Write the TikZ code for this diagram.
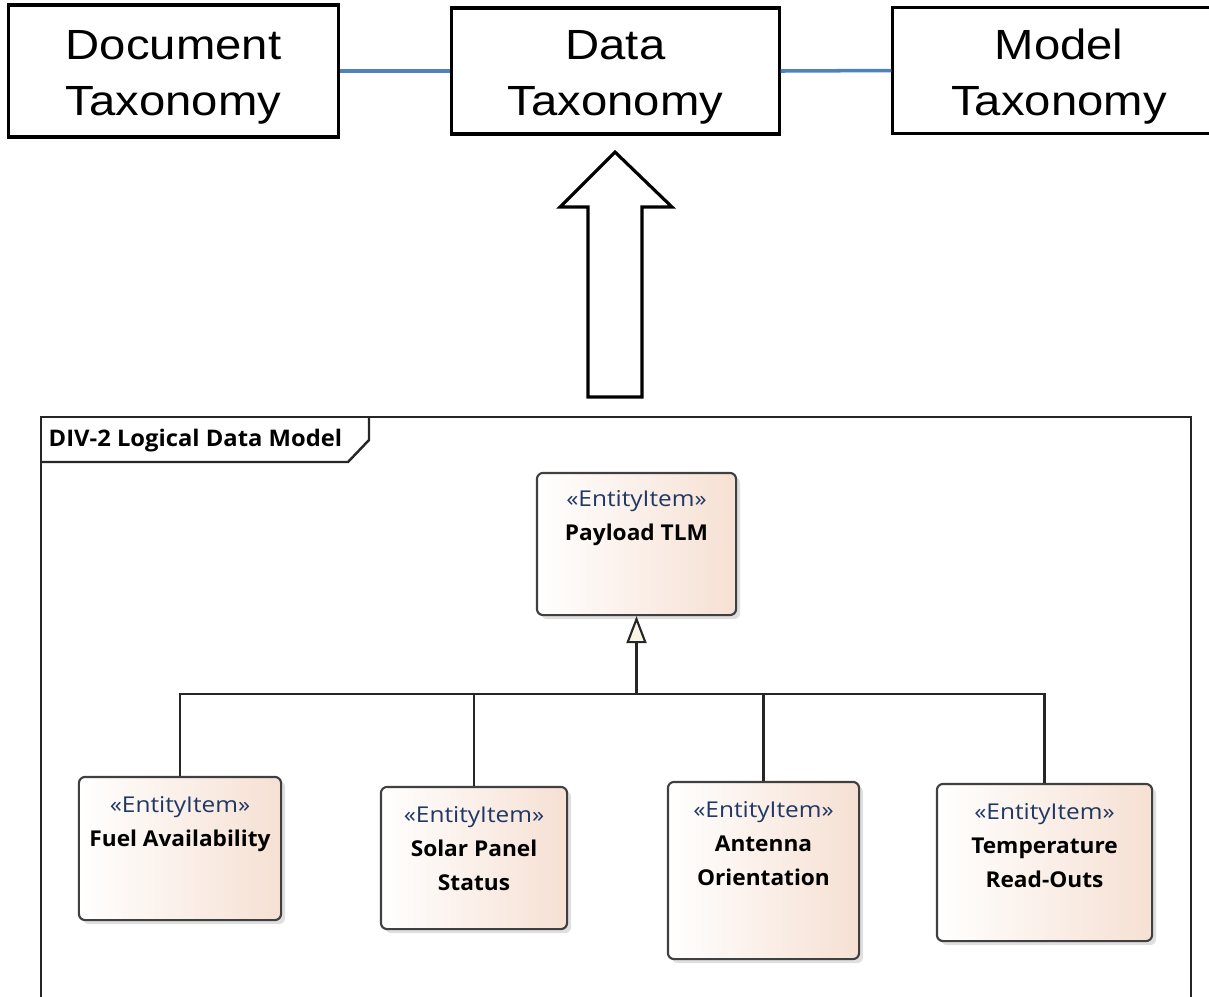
\documentclass[tikz,border=0pt]{standalone}
\usepackage{fontspec}
\newfontfamily\boxfont[FakeStretch=1.12]{Liberation Sans}
\newfontfamily\umlfont[FakeStretch=1.12, BoldFeatures={FakeStretch=1.04}]{Open Sans}
\usetikzlibrary{arrows.meta,shadows}
\definecolor{linkblue}{RGB}{79,129,189}
\definecolor{peach}{RGB}{246,224,211}
\definecolor{stereo}{RGB}{31,56,100}
\definecolor{cream}{RGB}{251,243,230}
\tikzset{
  taxbox/.style={draw=black, line width=0.9pt, fill=white, inner sep=0pt},
  taxtext/.style={align=center, inner sep=0pt,
    font=\boxfont\fontsize{12}{15.9}\selectfont},
  entity/.style={draw=black!75, line width=0.6pt, rounded corners=0.06cm,
    left color=white, right color=peach,
    drop shadow={shadow xshift=0.04cm, shadow yshift=-0.04cm, opacity=0.25}},
  etext/.style={align=center, anchor=north, inner sep=0pt,
    font=\umlfont\bfseries\fontsize{6.2}{9.7}\selectfont},
  conn/.style={draw=black!85, line width=0.6pt},
}
\begin{document}
\begin{tikzpicture}
    [
      x=0.01cm, y=-0.01cm,
    ]
    \useasboundingbox (0,0) rectangle (1209,996);
    \clip (0,0) rectangle (1209,996);

    % taxonomies
    \node [taxbox, minimum width=3.29cm, minimum height=1.32cm] (doc) at (173.5,71) {};
    \node [taxbox, minimum width=3.27cm, minimum height=1.26cm] (data) at (615.5,71) {};
    \node [taxbox, minimum width=3.32cm, minimum height=1.26cm] (model) at (1059,70.5) {};
    \node [taxtext] (doc-text) at ([yshift=-0.065cm]doc.center) {Document\\Taxonomy};
    \node [taxtext] (data-text) at ([yshift=-0.065cm]data.center) {Data\\Taxonomy};
    \node [taxtext] (model-text) at ([yshift=-0.065cm]model.center) {Model\\Taxonomy};
    \draw [linkblue, line width=1pt] (doc.east) -- (data.west);
    \draw [linkblue, line width=1pt] (data.east) -- (model.west);

    % block arrow
    \draw [line width=0.9pt, fill=white, line join=miter]
      (615,152) -- (672,207) -- (642,207) -- (642,397) -- (588,397) -- (588,207) -- (560,207) -- cycle;

    % frame
    \draw [line width=0.7pt, black!85] (41,417) rectangle (1191,1020);
    \draw [line width=0.7pt, black!85] (41,462) -- (348,462) -- (369,440) -- (369,417);
    \node [anchor=base west, inner sep=0pt, font=\umlfont\bfseries\fontsize{6.5}{8}\selectfont]
      (frametitle) at (48,446) {DIV-2 Logical Data Model};

    % parent
    \node [entity, minimum width=1.99cm, minimum height=1.42cm] (payload) at (636.5,544) {};
    \node [etext] (payload-text) at ([yshift=-0.18cm]payload.north)
      {{\mdseries\color{stereo}«EntityItem»}\\Payload TLM};
    \coordinate (bus) at (636.5,694);

    % children
    \foreach \n/\cx/\cy/\w/\h/\t in {fuel/180/848.5/2.02/1.43/{Fuel Availability},
                                     solar/474/858/1.86/1.42/{Solar Panel\\Status},
                                     antenna/763.5/870.5/1.91/1.77/{Antenna\\Orientation},
                                     temp/1044.5/862.5/2.15/1.57/{Temperature\\Read-Outs}} {
      \node [entity, minimum width=\w cm, minimum height=\h cm] (\n) at (\cx,\cy) {};
      \node [etext] (\n-text) at ([yshift=-0.2cm]\n.north)
        {{\mdseries\color{stereo}«EntityItem»}\\\t};
      \draw [conn] (\n.north) |- (bus);
    }
    \draw [conn, -{Triangle[length=0.27cm, width=0.2cm, fill=cream]}] (bus) -- (payload.south);
  \end{tikzpicture}
\end{document}
